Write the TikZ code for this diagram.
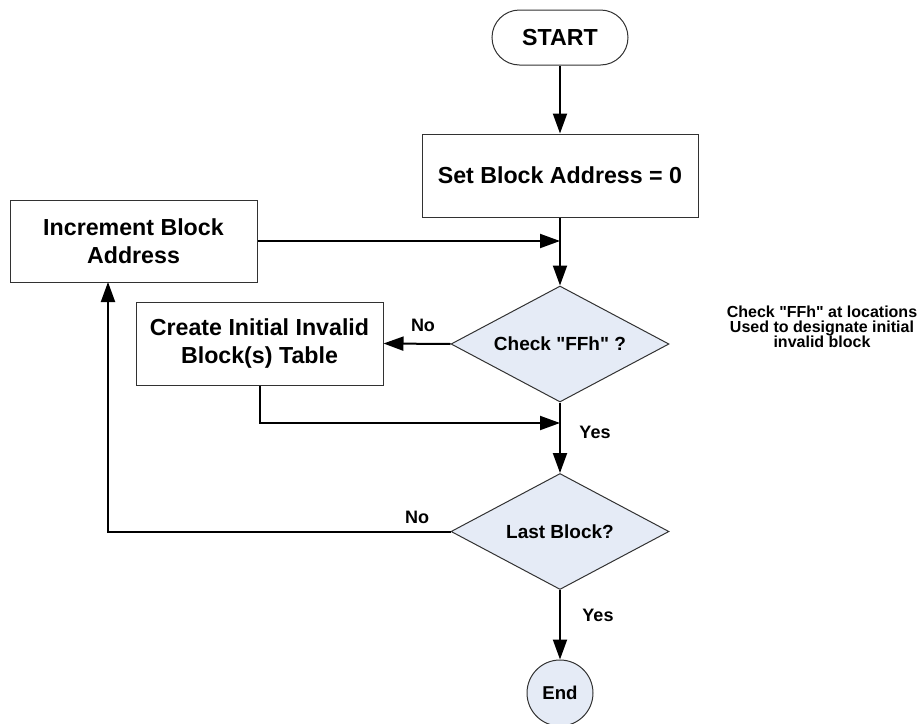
\documentclass[tikz,border=0pt]{standalone}
\usepackage{fontspec}
\setmainfont{Liberation Sans}[Ligatures=TeXOff]
\usetikzlibrary{shapes.geometric,arrows.meta,calc}
\definecolor{dfill}{RGB}{229,235,246}
\definecolor{bdr}{RGB}{50,50,50}
\begin{document}
\begin{tikzpicture}[x=0.5pt,y=-0.5pt,
  bigtxt/.style={font=\fontsize{11.6}{14}\selectfont\bfseries},
  boxnode/.style={draw=bdr,line width=0.5pt,fill=white,bigtxt,align=center,inner sep=0pt},
  decnode/.style={draw=bdr,line width=0.5pt,fill=dfill,diamond,shape aspect=1.88,inner sep=0pt,
     minimum width=109pt,minimum height=58pt,font=\fontsize{9.5}{11}\selectfont\bfseries},
  lbl/.style={font=\fontsize{9}{11}\selectfont\bfseries,inner sep=0pt},
  conn/.style={line width=1pt,-{Triangle[length=10pt,width=7pt]}},
  plain/.style={line width=1pt}]
\useasboundingbox (0,0) rectangle (918,724);
\node[boxnode,rounded corners=13.75pt,minimum width=68pt,minimum height=27.5pt] (start) at (560,37.5) {START};
\node[boxnode,minimum width=138pt,minimum height=41.5pt] (setb) at (560,175.5) {Set Block Address = 0};
\node[boxnode,minimum width=123.5pt,minimum height=41pt] (incr) at (133.5,241) {Increment Block\\Address};
\node[boxnode,minimum width=123.5pt,minimum height=41.5pt] (create) at (259.5,343.5) {Create Initial Invalid\\Block(s) Table};
\node[decnode] (check) at (560,344) {Check "FFh" ?};
\node[decnode] (last) at (560,531.5) {Last Block?};
\node[draw=bdr,line width=0.5pt,fill=dfill,circle,minimum size=33pt,inner sep=0pt,font=\fontsize{9.3}{11}\selectfont\bfseries] (end) at (560,693) {End};
\node[align=center,font=\fontsize{8}{7.5}\selectfont\bfseries] (note) at (822,327) {Check "FFh" at locations\\Used to designate initial\\invalid block};
\coordinate (j1) at (560,241);
\coordinate (j2) at (560,423);
\coordinate (up) at (108,282);
\draw[conn] (start) -- (setb);
\draw[conn] (setb) -- (check);
\draw[conn] (incr.east) -- (j1);
\draw[conn] (check.west) -- (create.east);
\draw[conn] (create.south) |- (j2);
\draw[conn] (check.south) -- (last.north);
\draw[conn] (last.west) -| (up);
\draw[conn] (last.south) -- (end.north);
\node[lbl] (no1) at (423,325) {No};
\node[lbl] (yes1) at (595,432) {Yes};
\node[lbl] (no2) at (417,517) {No};
\node[lbl] (yes2) at (598,615) {Yes};
\end{tikzpicture}
\end{document}
